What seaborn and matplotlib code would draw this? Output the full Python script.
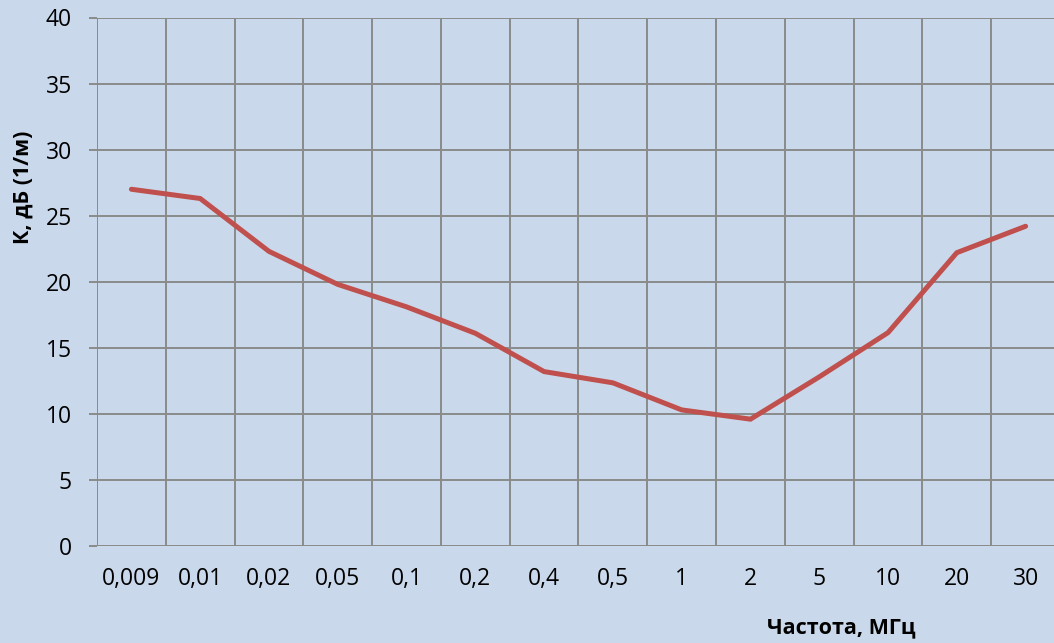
import matplotlib
matplotlib.use("Agg")
import matplotlib.pyplot as plt
import seaborn as sns
import numpy as np
import pandas as pd

categories = ["0,009", "0,01", "0,02", "0,05", "0,1", "0,2", "0,4", "0,5",
              "1", "2", "5", "10", "20", "30"]
values = [27.0, 26.3, 22.3, 19.8, 18.1, 16.1, 13.2, 12.35, 10.3, 9.6,
          12.8, 16.15, 22.2, 24.2]
y_ticks = [0, 5, 10, 15, 20, 25, 30, 35, 40]

BG = "#c9d9eb"
GRID = "#8a8a8a"
LINE = "#c0504d"

sns.set_theme(style="white")
plt.rcParams["font.family"] = ["Open Sans", "DejaVu Sans"]

df = pd.DataFrame({"x": categories, "y": values})

fig = plt.figure(figsize=(10.54, 6.43), dpi=100, facecolor=BG)
ax = fig.add_axes([97 / 1054, 1 - 546 / 643, (1060 - 97) / 1054, (546 - 17.5) / 643])
ax.set_facecolor(BG)

sns.lineplot(data=df, x="x", y="y", ax=ax, sort=False, color=LINE,
             linewidth=3.6, solid_capstyle="round", solid_joinstyle="miter")

ax.set_xlim(-0.5, len(categories) - 0.5)
ax.set_ylim(0, 40)
ax.set_yticks(y_ticks)
ax.set_yticklabels([str(t) for t in y_ticks])
ax.set_xticks(np.arange(len(categories)))
ax.set_xticklabels(categories)
ax.set_xticks(np.arange(-0.5, len(categories), 1), minor=True)

ax.grid(False)
ax.grid(True, axis="y", which="major", color=GRID, linewidth=1.4)
ax.grid(True, axis="x", which="minor", color=GRID, linewidth=1.4)
ax.set_axisbelow(True)
for s in ax.spines.values():
    s.set_visible(False)

ax.tick_params(axis="y", which="major", length=6, width=1.4, color=GRID,
               pad=12, labelsize=16.5, labelcolor="black", left=True)
ax.tick_params(axis="x", which="both", length=0, pad=15, labelsize=16.5,
               labelcolor="black")

ax.set_xlabel("Частота, МГц", fontsize=15.5, fontweight="bold", color="black")
ax.xaxis.set_label_coords((841 - 97) / 963, (546 - 628) / 528.5)
ax.xaxis.label.set_va("center")
ax.set_ylabel("К, дБ (1/м)", fontsize=15.5, fontweight="bold", color="black")
ax.yaxis.set_label_coords((23 - 97) / 963, (546 - 187) / 528.5)
ax.yaxis.label.set_va("center")

fig.savefig("out.png", dpi=100, facecolor=BG)
